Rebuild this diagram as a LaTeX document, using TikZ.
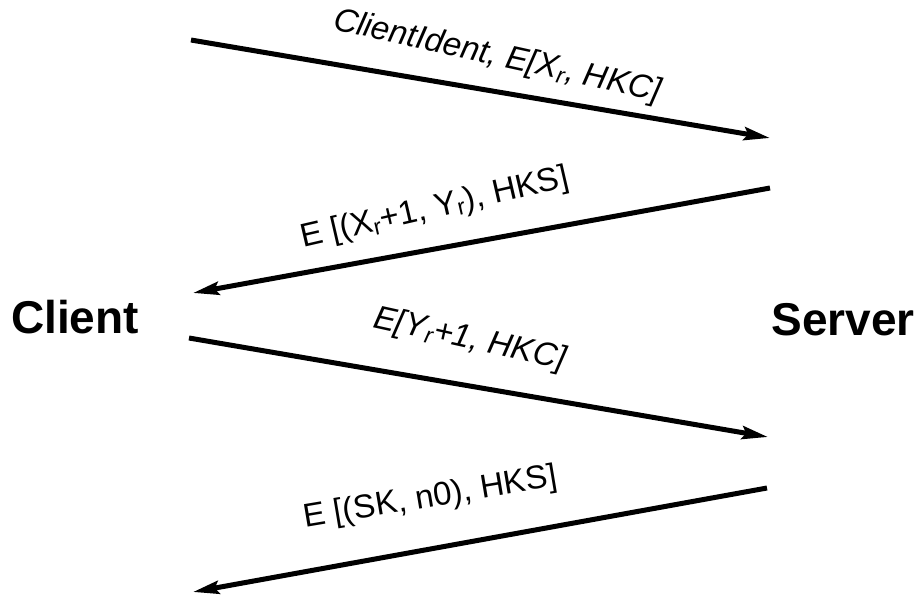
\documentclass[tikz,border=0pt]{standalone}
\usepackage{fontspec}
\setmainfont{Liberation Sans}
\usetikzlibrary{arrows.meta}
\begin{document}
\begin{tikzpicture}[x=1pt,y=1pt,
  msg/.style={line width=5pt,-{Stealth[length=26pt,width=13pt,inset=4pt]}},
  party/.style={font=\fontsize{46}{50}\selectfont\bfseries,inner sep=0pt,anchor=base},
  lbl/.style={font=\fontsize{33}{36}\selectfont,inner sep=0pt,anchor=base west}]
\useasboundingbox (0,0) rectangle (922,-595);
\node[party] (client) at (75,-333) {Client};
\node[party] (server) at (843,-335) {Server};
\coordinate (a1s) at (191,-40);  \coordinate (a1e) at (770,-138);
\coordinate (a2s) at (770,-188); \coordinate (a2e) at (193,-293);
\coordinate (a3s) at (189,-338); \coordinate (a3e) at (768,-437);
\coordinate (a4s) at (767,-488); \coordinate (a4e) at (193,-592);
\draw[msg] (a1s) -- (a1e);
\draw[msg] (a2s) -- (a2e);
\draw[msg] (a3s) -- (a3e);
\draw[msg] (a4s) -- (a4e);
\node[lbl,rotate=-12.5] (l1) at (332,-29) {\itshape ClientIdent, E[X\textsubscript{r}, HKC]};
\node[lbl,rotate=13] (l2) at (303,-248) {E [(X\textsubscript{r}+1, Y\textsubscript{r}), HKS]};
\node[lbl,rotate=-12.5] (l3) at (372,-327) {\itshape E[Y\textsubscript{r}+1, HKC]};
\node[lbl,rotate=9.5] (l4) at (305,-528) {E [(SK, n0), HKS]};
\end{tikzpicture}
\end{document}
